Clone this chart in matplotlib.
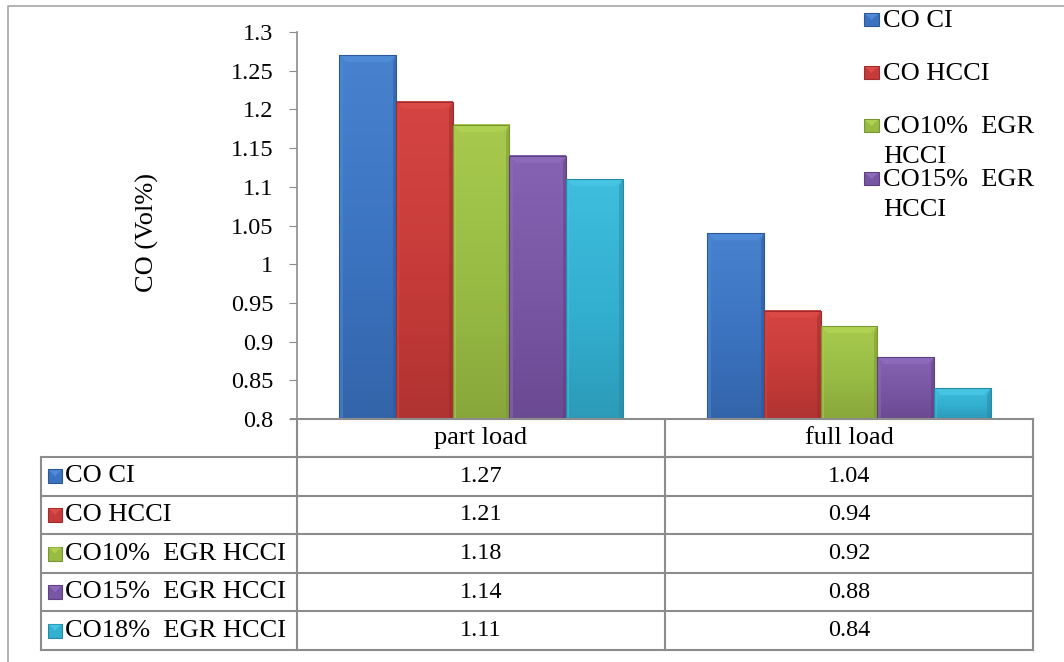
import numpy as np
import matplotlib
matplotlib.use("Agg")
import matplotlib.pyplot as plt
import matplotlib.transforms as mtransforms
from matplotlib.lines import Line2D
from matplotlib.patches import Rectangle, Polygon
from matplotlib.colors import LinearSegmentedColormap

plt.rcParams['font.family'] = ['Liberation Serif', 'DejaVu Serif']

# data
categories = ['part load', 'full load']
series = ['CO CI', 'CO HCCI', 'CO10%  EGR HCCI', 'CO15%  EGR HCCI', 'CO18%  EGR HCCI']
legend_labels = ['CO CI', 'CO HCCI', 'CO10%  EGR\nHCCI', 'CO15%  EGR\nHCCI']
values = [
    [1.27, 1.04],
    [1.21, 0.94],
    [1.18, 0.92],
    [1.14, 0.88],
    [1.11, 0.84],
]
yticks = [0.8, 0.85, 0.9, 0.95, 1, 1.05, 1.1, 1.15, 1.2, 1.25, 1.3]
ytick_labels = ['0.8', '0.85', '0.9', '0.95', '1', '1.05', '1.1', '1.15', '1.2', '1.25', '1.3']

# (light, base, dark) per series
colours = [
    ('#4f8ad6', '#3b73c0', '#2c5896'),
    ('#dc4a47', '#c63b39', '#9c2d2c'),
    ('#aed152', '#98bb44', '#7a9634'),
    ('#8d6bbb', '#7956a4', '#5d4081'),
    ('#45c5e3', '#33afd0', '#2689a4'),
]

W, H = 1064, 662
def fx(px):
    return px / W
def fy(py):
    return 1 - py / H

fs = 19      # words
fs_num = 17.5  # numbers
grey = '#8c8c8c'

fig = plt.figure(figsize=(W / 100, H / 100), dpi=100)

# outer frame (only top and left visible)
fig.add_artist(Line2D([fx(8), fx(8), fx(W)], [fy(H), fy(6), fy(6)],
                      transform=fig.transFigure, color='#a6a6a6', lw=1.2))

ax = fig.add_axes([fx(297), fy(419), fx(1033) - fx(297), fy(32) - fy(419)])
ax.set_facecolor('none')

n = len(series)
width = 0.154
x = np.arange(len(categories))
ymin = yticks[0]
# bevel size in data units (about 7 px)
bev_h = (yticks[-1] - ymin) / 387 * 7
bev_w = width / 57 * 7

for i in range(n):
    light, base, dark = colours[i]
    cmap = LinearSegmentedColormap.from_list('c%d' % i, [light, base, dark])
    xs = x + (i - (n - 1) / 2) * width
    for xc, v in zip(xs, values[i]):
        x0, x1 = xc - width / 2, xc + width / 2
        # lighter at the top, darker at the bottom
        grad = np.linspace(1.0, 0.0, 50).reshape(-1, 1)
        ax.imshow(grad, extent=[x0, x1, ymin, v], aspect='auto', cmap=cmap,
                  vmin=-0.3, vmax=1.4, zorder=2, interpolation='bicubic', origin='lower')
        # top bevel
        ax.add_patch(Polygon([(x0, v), (x1, v), (x1 - bev_w, v - bev_h), (x0 + bev_w, v - bev_h)],
                             closed=True, facecolor=light, edgecolor='none', zorder=3))
        # side bevels
        ax.add_patch(Polygon([(x1, v), (x1, ymin), (x1 - bev_w * 0.5, ymin), (x1 - bev_w * 0.5, v - bev_h)],
                             closed=True, facecolor=dark, edgecolor='none', alpha=0.5, zorder=3))
        ax.add_patch(Polygon([(x0, v), (x0, ymin), (x0 + bev_w * 0.5, ymin), (x0 + bev_w * 0.5, v - bev_h)],
                             closed=True, facecolor=light, edgecolor='none', alpha=0.5, zorder=3))
        ax.add_patch(Rectangle((x0, ymin), width, v - ymin, facecolor='none',
                               edgecolor=dark, lw=0.8, zorder=4))

ax.set_xlim(-0.5, len(categories) - 0.5)
ax.set_ylim(ymin, yticks[-1])
ax.set_yticks(yticks)
ax.set_yticklabels(ytick_labels, fontsize=fs_num)
ax.set_xticks([])
ax.tick_params(axis='y', direction='out', length=6, color=grey, pad=11)
for s in ['top', 'right', 'bottom']:
    ax.spines[s].set_visible(False)
ax.spines['left'].set_color(grey)
ax.spines['left'].set_linewidth(1.2)
fig.text(fx(147), fy(232), 'CO (Vol%)', rotation=90, ha='center', va='center', fontsize=fs)

# data table below the plot
tf = fig.transFigure
bt = mtransforms.blended_transform_factory(ax.transData, fig.transFigure)
row_edges = np.linspace(457, 650, n + 1)
head_top, head_bot = 419, 457
left_px, right_px = 41, 1033
col_x = [-0.5 + k for k in range(len(categories) + 1)]

# horizontal lines
fig.add_artist(Line2D([fx(291), fx(right_px)], [fy(head_top)] * 2, transform=tf, color=grey, lw=1.5))
fig.add_artist(Line2D([fx(297), fx(right_px)], [fy(head_bot)] * 2, transform=tf, color=grey, lw=1.5))
for r in row_edges:
    fig.add_artist(Line2D([fx(left_px), fx(right_px)], [fy(r)] * 2, transform=tf, color=grey, lw=1.5))
# vertical lines
fig.add_artist(Line2D([fx(left_px)] * 2, [fy(row_edges[0]), fy(row_edges[-1])], transform=tf, color=grey, lw=1.5))
fig.add_artist(Line2D([fx(297)] * 2, [fy(head_top), fy(row_edges[-1])], transform=tf, color=grey, lw=1.5))
for cx in col_x[1:]:
    fig.add_artist(Line2D([cx, cx], [fy(head_top), fy(row_edges[-1])], transform=bt, color=grey, lw=1.5))

for k, cat in enumerate(categories):
    fig.text(x[k], fy((head_top + head_bot) / 2), cat, transform=bt, ha='center', va='center', fontsize=fs)

for i in range(n):
    yc = (row_edges[i] + row_edges[i + 1]) / 2
    light, base, dark = colours[i]
    fig.add_artist(Rectangle((fx(48), fy(yc + 7)), fx(14), fy(yc - 7) - fy(yc + 7), transform=tf,
                             facecolor=base, edgecolor=dark, lw=0.8))
    fig.add_artist(Polygon([(fx(49), fy(yc - 6)), (fx(61), fy(yc - 6)), (fx(55), fy(yc))], closed=True,
                           transform=tf, facecolor=light, edgecolor='none'))
    fig.text(fx(65), fy(yc), series[i], ha='left', va='center', fontsize=fs)
    for k in range(len(categories)):
        fig.text(x[k], fy(yc), '%.2f' % values[i][k], transform=bt, ha='center', va='center', fontsize=fs_num)

# legend (only four entries fit in the original)
for i, lab in enumerate(legend_labels):
    base_y = 27 + i * 53
    light, base, dark = colours[i]
    fig.add_artist(Rectangle((fx(864), fy(base_y - 1)), fx(15), fy(base_y - 14) - fy(base_y - 1), transform=tf,
                             facecolor=base, edgecolor=dark, lw=0.8))
    fig.add_artist(Polygon([(fx(865), fy(base_y - 13)), (fx(878), fy(base_y - 13)), (fx(871.5), fy(base_y - 7))],
                           closed=True, transform=tf, facecolor=light, edgecolor='none'))
    for j, line in enumerate(lab.split('\n')):
        fig.text(fx(883), fy(base_y + j * 30), line, ha='left', va='baseline', fontsize=fs)

fig.savefig('out.png', dpi=100)
